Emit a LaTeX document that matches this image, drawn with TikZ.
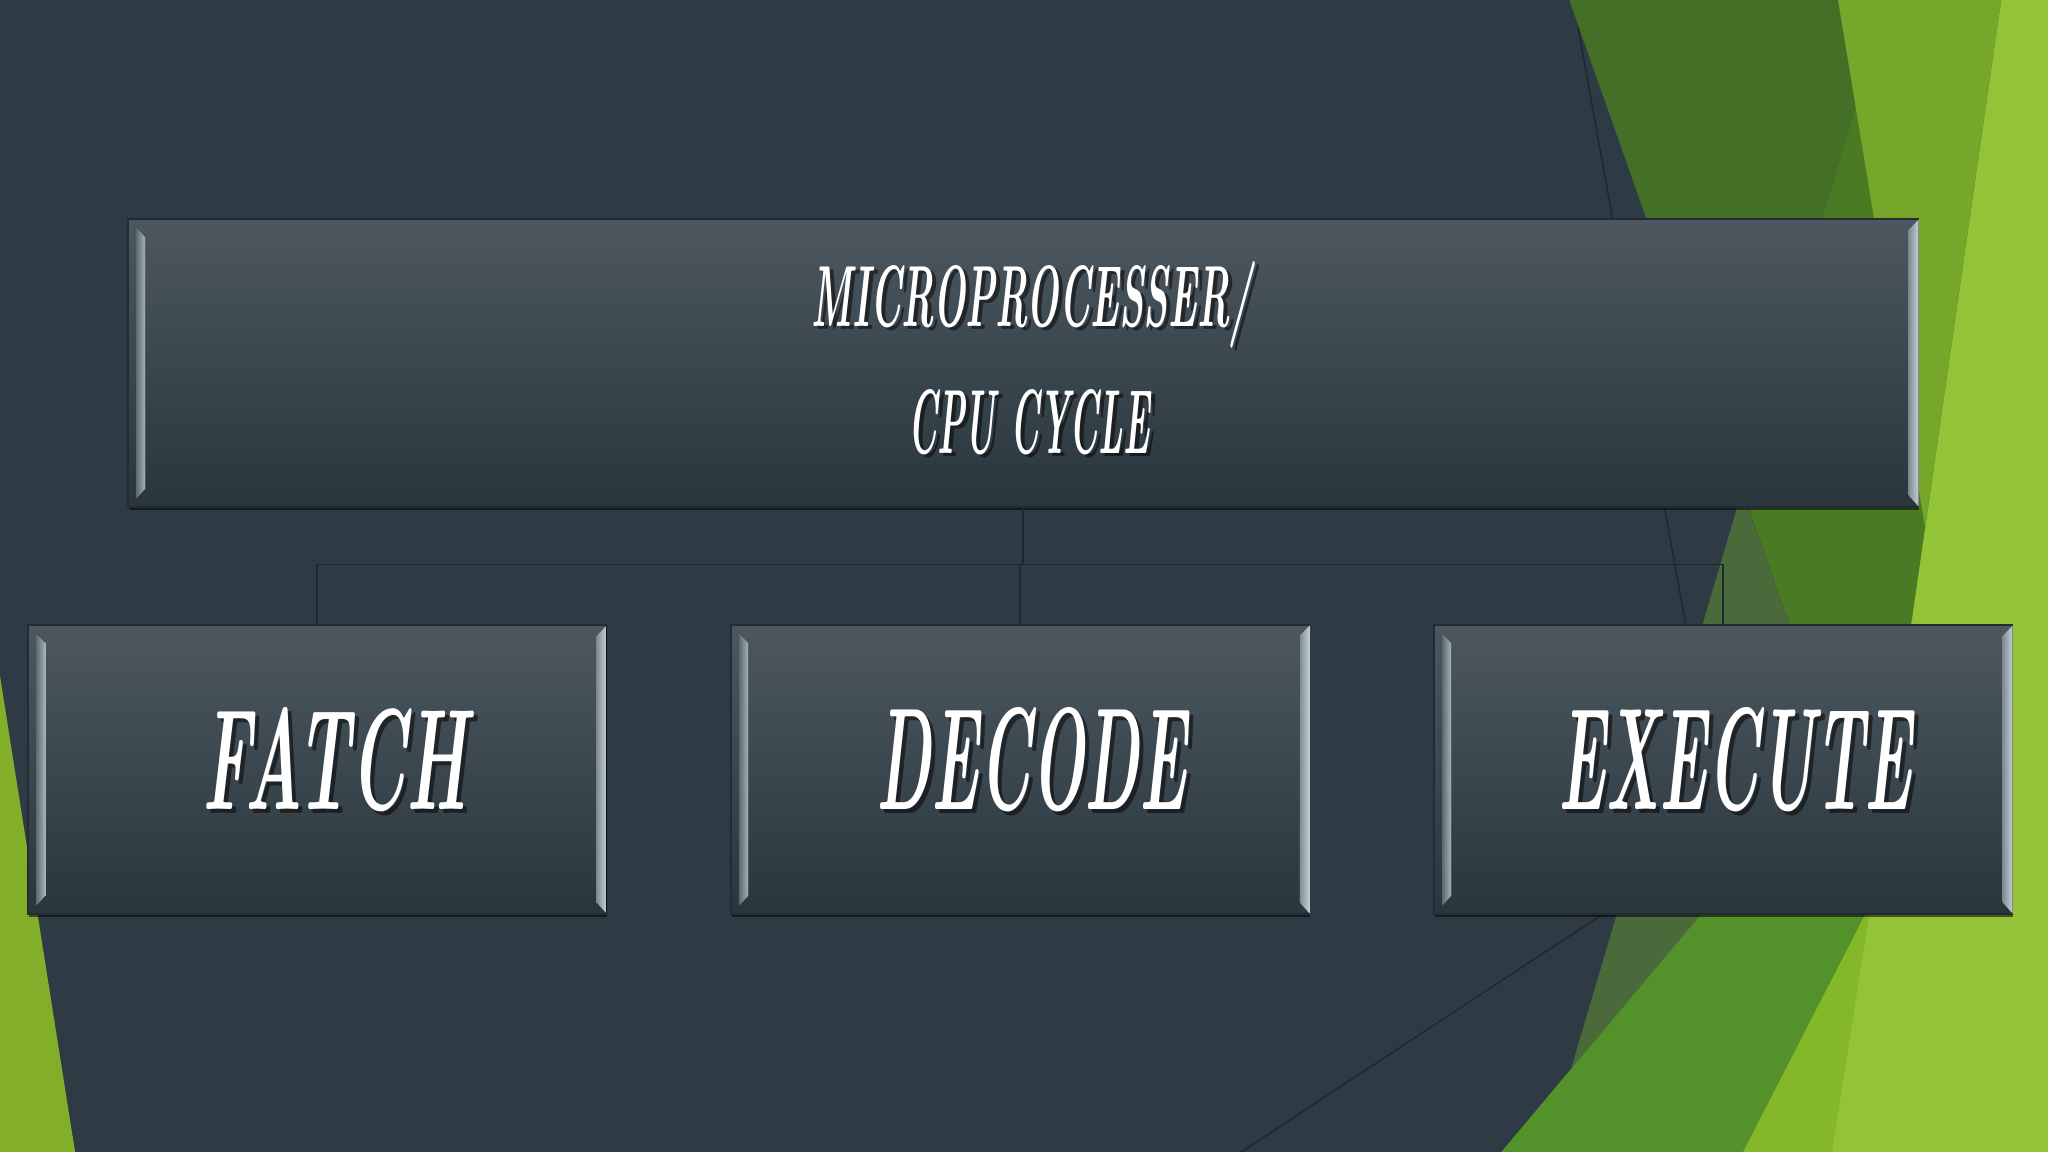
\documentclass[tikz,border=0pt]{standalone}
\usepackage{graphicx}
\usetikzlibrary{calc,shadows}
\definecolor{slate}{HTML}{2E3B44}
\definecolor{glight}{HTML}{93C437}
\definecolor{gmid}{HTML}{76A72A}
\definecolor{gdark}{HTML}{436F27}
\definecolor{gbig}{HTML}{4A7B24}
\definecolor{gbottom}{HTML}{53912A}
\definecolor{gsliver}{HTML}{85B828}
\definecolor{gleft}{HTML}{83AE2A}
\definecolor{olive}{HTML}{4B6A3C}
\definecolor{boxtop}{HTML}{4C575F}
\definecolor{boxmid}{HTML}{3E4751}
\definecolor{boxbot}{HTML}{2A363D}
\definecolor{boxline}{HTML}{222C32}
\definecolor{connc}{HTML}{1E292F}
\definecolor{bevA}{HTML}{5F6C74}
\definecolor{bevB}{HTML}{A9B5BC}
\definecolor{bevC}{HTML}{7E8B93}
\definecolor{bevD}{HTML}{C6D1D6}
\tikzset{
  cbox/.style={draw=boxline, line width=0.6pt, top color=boxtop, middle color=boxmid,
    bottom color=boxbot, inner sep=0pt,
    drop shadow={shadow xshift=0.6pt, shadow yshift=-1.6pt, opacity=0.55, fill=black}},
  conn/.style={draw=connc, line width=0.8pt},
  deco/.style={draw=connc, line width=0.7pt},
  ttext/.style={text=white, inner sep=0pt, font=\bfseries\itshape},
  tshadow/.style={text=black, opacity=0.5, inner sep=0pt, font=\bfseries\itshape},
}
\newcommand\mybevels[1]{%
  \fill[left color=bevA, right color=bevB]
    ($(#1.north west)+(9,9)$) -- ($(#1.north west)+(18,19)$) --
    ($(#1.south west)+(18,-19)$) -- ($(#1.south west)+(9,-9)$) -- cycle;
  \fill[left color=bevC, right color=bevD]
    ($(#1.north east)+(-10,11)$) -- ($(#1.north east)+(0,1)$) --
    ($(#1.south east)+(0,-1)$) -- ($(#1.south east)+(-10,-12)$) -- cycle;
}
\begin{document}
\begin{tikzpicture}[x=0.5pt,y=-0.5pt]
\useasboundingbox (0,0) rectangle (2048,1151.5);
\begin{scope}
\clip (-6,-6) rectangle (2054,1158);
% background layers
\fill[glight] (-6,-6) rectangle (2054,1158);
\fill[gbig] (1540,-6) -- (2002,-6) -- (1871,903) -- (1740,1158) -- (1440,1158) -- cycle;
\fill[gbottom] (1440,1158) -- (1740,1158) -- (1871,903) -- (1882,860) -- (1500,860) -- cycle;
\fill[gdark] (1540,-6) -- (1837,-6) -- (1856,107) -- (1743,480) -- (1560,480) -- cycle;
\fill[gmid] (1837,-6) -- (2002,-6) -- (1925,527) -- cycle;
\fill[gsliver] (1871,903) -- (1740,1158) -- (1831,1158) -- cycle;
% slate polygon
\fill[slate] (-6,-6) -- (1567,-6) -- (1835,754) -- (1496,1158) -- (76,1158) -- (-6,676) -- cycle;
\fill[olive] (1742,491) -- (1835,754) -- (1571,1069) -- cycle;
\fill[gleft] (-6,640) -- (0,676) -- (76,1158) -- (-6,1158) -- cycle;
% decorative thin lines
\coordinate (d1) at (1578,27);
\coordinate (d2) at (1692,660);
\coordinate (d3) at (1615,906);
\coordinate (d4) at (1232,1158);
\draw[deco] (d1) -- (d2);
\draw[deco] (d3) -- (d4);
\end{scope}

% boxes
\node[cbox, minimum width=895pt, minimum height=144pt] (top) at (1023,363) {};
\node[cbox, minimum width=289pt, minimum height=144.5pt] (fatch) at (317,769.5) {};
\node[cbox, minimum width=289pt, minimum height=144.5pt] (decode) at (1020,769.5) {};
\node[cbox, minimum width=289pt, minimum height=144.5pt] (execute) at (1723,769.5) {};
\mybevels{top}
\mybevels{fatch}
\mybevels{decode}
\mybevels{execute}

% connectors
\draw[conn] (top.south) -- ++(0,57) coordinate (hub);
\draw[conn] (fatch.north) |- (hub) -| (execute.north);
\draw[conn] (hub -| decode.north) -- (decode.north);

% texts
\node[tshadow] at (1036,300) {\resizebox{220pt}{30.5pt}{MICROPROCESSER\smash{/}}};
\node[ttext] (t1) at (1032,297) {\resizebox{220pt}{30.5pt}{MICROPROCESSER\smash{/}}};
\node[tshadow] at (1033,425) {\resizebox{121pt}{32pt}{CPU CYCLE}};
\node[ttext] (t2) at (1029,422) {\resizebox{121pt}{32pt}{CPU CYCLE}};
\node[tshadow] at (339,764) {\resizebox{132pt}{51pt}{FATCH}};
\node[ttext] (t3) at (335,760) {\resizebox{132pt}{51pt}{FATCH}};
\node[tshadow] at (1036,764) {\resizebox{155pt}{51pt}{DECODE}};
\node[ttext] (t4) at (1032,760) {\resizebox{155pt}{51pt}{DECODE}};
\node[tshadow] at (1739,764) {\resizebox{177pt}{51pt}{EXECUTE}};
\node[ttext] (t5) at (1735,760) {\resizebox{177pt}{51pt}{EXECUTE}};
\end{tikzpicture}
\end{document}
